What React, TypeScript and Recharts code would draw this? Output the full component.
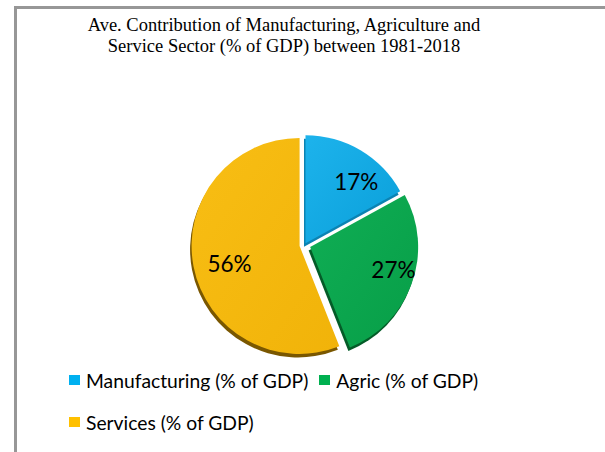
import React from "react";
import { Legend, Pie, PieChart, Sector } from "recharts";

const sectors = ["Manufacturing (% of GDP)", "Agric (% of GDP)", "Services (% of GDP)"];
const shares = [17, 27, 56];

const TITLE_LINES = [
  "Ave. Contribution of Manufacturing, Agriculture and",
  "Service Sector (% of GDP) between 1981-2018",
];

// styling per slice (same order as sectors)
const LEGEND_COLORS = ["#00B0F0", "#00B050", "#FFC000"];
const TOP_COLORS = ["#1DB3EC", "#10AE55", "#F8BE14"];
const BOTTOM_COLORS = ["#0A9FD9", "#079E47", "#F1B309"];
const RIM_COLORS = ["#0B83B3", "#045C28", "#7A5700"];
const EXPLODE = [2, 6, 5];
const LABEL_RADIUS = [0.74, 0.78, 0.66];
const LABEL_NUDGE: Array<[number, number]> = [
  [10, 7],
  [4, -6],
  [0, 4],
];

const FONT = "Lato, 'Open Sans', sans-serif";
const RAD = Math.PI / 180;

const chartData = sectors.map((name, i) => ({ name, value: shares[i], idx: i }));

function ExplodedSlice(props: any) {
  const i = props.payload?.idx ?? props.idx ?? 0;
  const e = EXPLODE[i];
  const dx = Math.cos(props.midAngle * RAD) * e;
  const dy = -Math.sin(props.midAngle * RAD) * e;
  const cx = props.cx + dx;
  const cy = props.cy + dy;
  return (
    <g>
      <Sector
        cx={cx - 1.5}
        cy={cy + 3.5}
        innerRadius={0}
        outerRadius={props.outerRadius}
        startAngle={props.startAngle}
        endAngle={props.endAngle}
        fill={RIM_COLORS[i]}
      />
      <Sector
        cx={cx}
        cy={cy}
        innerRadius={0}
        outerRadius={props.outerRadius}
        startAngle={props.startAngle}
        endAngle={props.endAngle}
        fill={`url(#slice-grad-${i})`}
      />
    </g>
  );
}

function SliceLabel(props: any) {
  const i = props.payload?.idx ?? props.idx ?? 0;
  const e = EXPLODE[i];
  const rr = props.outerRadius * LABEL_RADIUS[i] + e;
  const x = props.cx + Math.cos(props.midAngle * RAD) * rr + LABEL_NUDGE[i][0];
  const y = props.cy - Math.sin(props.midAngle * RAD) * rr + LABEL_NUDGE[i][1];
  return (
    <text
      x={x}
      y={y}
      textAnchor="middle"
      dominantBaseline="central"
      fill="#000"
      fontFamily={FONT}
      fontSize={22.5}
    >
      {`${shares[i]}%`}
    </text>
  );
}

function LegendBox() {
  const item = (i: number) => (
    <span
      key={i}
      style={{ display: "inline-flex", alignItems: "center", marginRight: 11 }}
    >
      <span
        style={{
          display: "inline-block",
          width: 11,
          height: 10,
          background: LEGEND_COLORS[i],
          marginRight: 6,
        }}
      />
      {sectors[i]}
    </span>
  );
  return (
    <div style={{ fontFamily: FONT, fontSize: 19.3, color: "#000" }}>
      <div style={{ height: 42, display: "flex", alignItems: "center" }}>
        {item(0)}
        {item(1)}
      </div>
      <div style={{ height: 42, display: "flex", alignItems: "center" }}>{item(2)}</div>
    </div>
  );
}

export default function App() {
  return (
    <div
      style={{
        position: "absolute",
        left: 0,
        top: 0,
        width: 605,
        height: 452,
        background: "#fff",
        overflow: "hidden",
      }}
    >
      <div
        style={{
          position: "absolute",
          left: 14,
          top: 6,
          width: 640,
          height: 500,
          border: "3px solid #979797",
          boxSizing: "border-box",
        }}
      />
      <div
        style={{
          position: "absolute",
          left: 0,
          top: 15,
          width: 568,
          textAlign: "center",
          fontFamily: "'Liberation Serif', 'Times New Roman', serif",
          fontSize: 18.5,
          lineHeight: "20.5px",
          color: "#000",
        }}
      >
        {TITLE_LINES.map((t) => (
          <div key={t}>{t}</div>
        ))}
      </div>
      <div style={{ position: "absolute", left: 0, top: 0 }}>
        <PieChart width={605} height={452} margin={{ top: 0, right: 0, bottom: 0, left: 0 }}>
          <defs>
            {TOP_COLORS.map((c, i) => (
              <linearGradient key={i} id={`slice-grad-${i}`} x1="0" y1="0" x2="1" y2="1">
                <stop offset="0%" stopColor={c} />
                <stop offset="100%" stopColor={BOTTOM_COLORS[i]} />
              </linearGradient>
            ))}
          </defs>
          <Pie
            data={chartData}
            dataKey="value"
            nameKey="name"
            cx={304.5}
            cy={245}
            outerRadius={108}
            startAngle={90}
            endAngle={-270}
            stroke="none"
            shape={ExplodedSlice}
            label={SliceLabel}
            labelLine={false}
            isAnimationActive={false}
          />
          <Legend
            content={<LegendBox />}
            layout="horizontal"
            verticalAlign="bottom"
            align="left"
            wrapperStyle={{ left: 69, top: 359, bottom: "auto", width: 530 }}
          />
        </PieChart>
      </div>
    </div>
  );
}
